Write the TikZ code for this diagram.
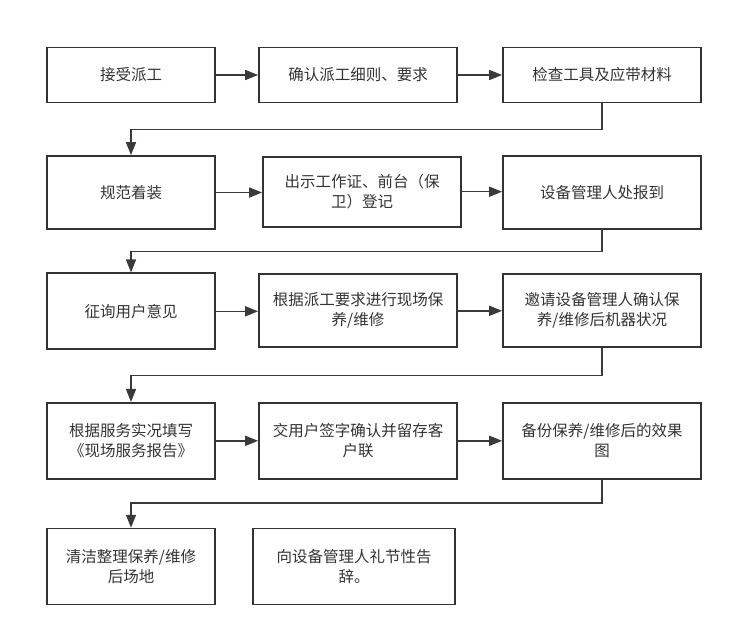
\documentclass[tikz,border=0pt]{standalone}
\usepackage{fontspec}
\setmainfont{Noto Sans CJK SC}
\usepackage{xcolor}
\usetikzlibrary{arrows.meta,positioning}

\definecolor{boxline}{HTML}{333333}
\definecolor{linkline}{HTML}{3A3A3A}

\begin{document}
\begin{tikzpicture}[x=1pt,y=-1pt,
  flowbox/.style 2 args={draw=boxline, line width=1.7pt, minimum width=#1, minimum height=#2,
    inner sep=0pt, align=center, text=boxline, font=\fontsize{15.5}{20}\selectfont},
  flowarrow/.style={draw=linkline, line width=1.5pt, -{Triangle[length=13pt,width=10pt]}}]
\useasboundingbox (0,0) rectangle (735,635);
% row 1
\node[flowbox={168pt}{55pt}] (a1) at (131,75) {接受派工};
\node[flowbox={198pt}{55pt}] (a2) at (358,75) {确认派工细则、要求};
\node[flowbox={198pt}{55pt}] (a3) at (602,75) {检查工具及应带材料};
% row 2
\node[flowbox={168pt}{73pt}] (b1) at (131,192.5) {规范着装};
\node[flowbox={198pt}{70pt}] (b2) at (362,191.7) {出示工作证、前台（保\\卫）登记};
\node[flowbox={198pt}{73pt}] (b3) at (602,192.5) {设备管理人处报到};
% row 3
\node[flowbox={168pt}{76pt}] (c1) at (131,311.3) {征询用户意见};
\node[flowbox={198pt}{73pt}] (c2) at (358,310.8) {根据派工要求进行现场保\\养/维修};
\node[flowbox={198pt}{73pt}] (c3) at (602,310.8) {邀请设备管理人确认保\\养/维修后机器状况};
% row 4
\node[flowbox={168pt}{76pt}] (d1) at (131,440.8) {根据服务实况填写\\《现场服务报告》};
\node[flowbox={198pt}{76pt}] (d2) at (358,440.8) {交用户签字确认并留存客\\户联};
\node[flowbox={198pt}{76pt}] (d3) at (602,440.8) {备份保养/维修后的效果\\图};
% row 5
\node[flowbox={168pt}{76pt}] (e1) at (131,566.6) {清洁整理保养/维修\\后场地};
\node[flowbox={202pt}{76pt}] (e2) at (354,566.6) {向设备管理人礼节性告\\辞。};
% turning points
\coordinate (t1) at (131,129.3);
\coordinate (t2) at (131,251.7);
\coordinate (t3) at (131,375.3);
\coordinate (t4) at (131,503);
% arrows
\draw[flowarrow] (a1) -- (a2);
\draw[flowarrow] (a2) -- (a3);
\draw[flowarrow] (a3.south) |- (t1) -- (b1.north);
\draw[flowarrow] (b1.east) -- (b1.east -| b2.west);
\draw[flowarrow] (b2.east) -- (b2.east -| b3.west);
\draw[flowarrow] (b3.south) |- (t2) -- (c1.north);
\draw[flowarrow] (c1.east) -- (c1.east -| c2.west);
\draw[flowarrow] (c2) -- (c3);
\draw[flowarrow] (c3.south) |- (t3) -- (d1.north);
\draw[flowarrow] (d1) -- (d2);
\draw[flowarrow] (d2) -- (d3);
\draw[flowarrow] (d3.south) |- (t4) -- (e1.north);
\end{tikzpicture}
\end{document}
